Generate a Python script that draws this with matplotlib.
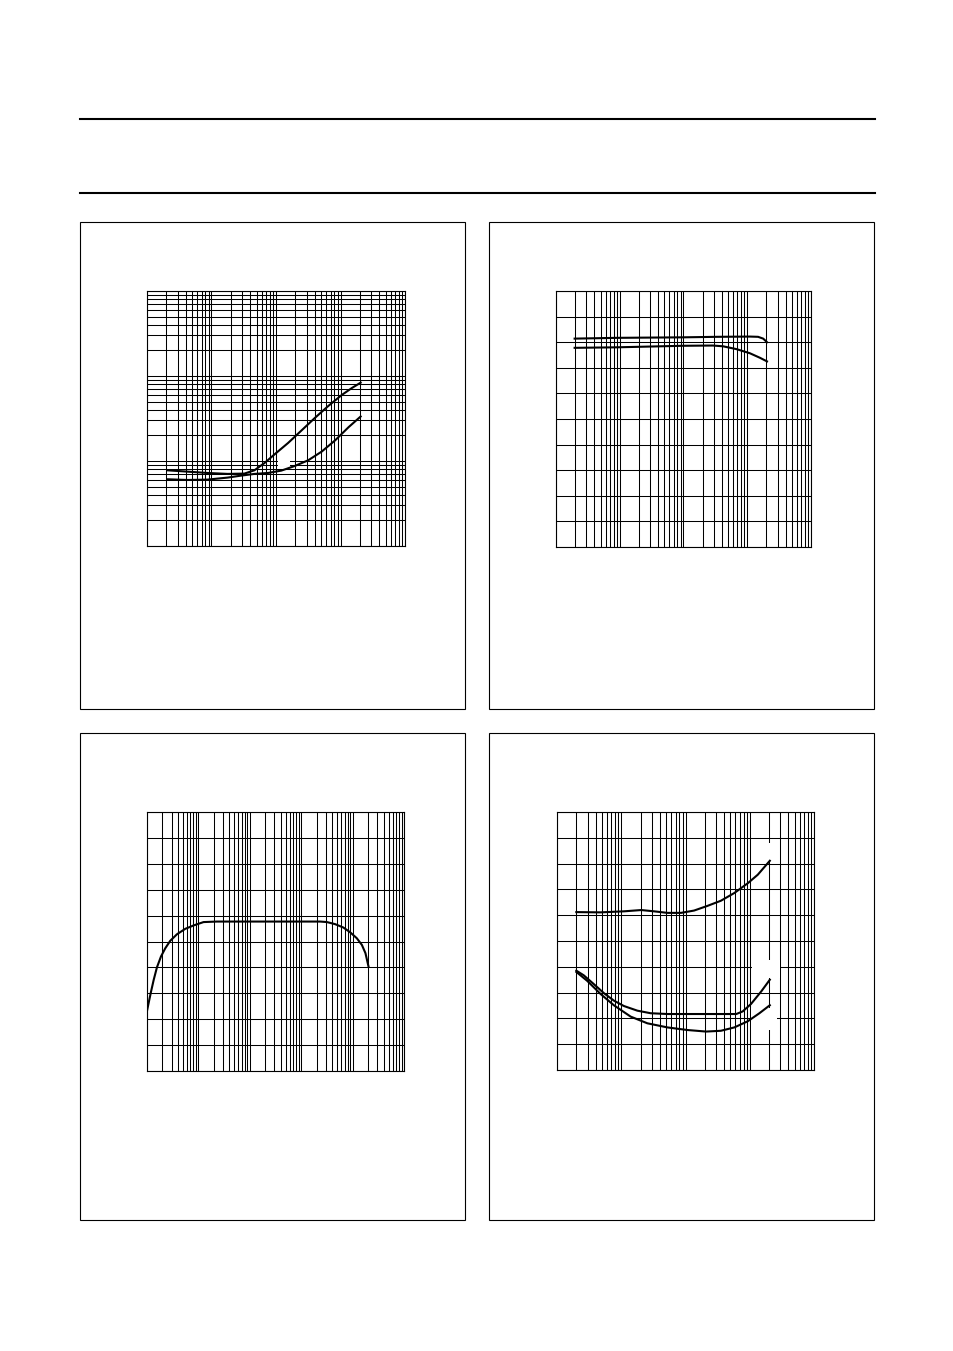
import matplotlib
matplotlib.use('Agg')
import matplotlib.pyplot as plt
from matplotlib.ticker import LogLocator, MultipleLocator
from matplotlib.patches import Rectangle
from matplotlib.lines import Line2D

W, H = 954, 1351

# chart 1 (log / log)
c1_x_a = [2.05, 4.22, 8.66, 17.8, 32.4, 46.4, 66.5, 95.3, 154, 249, 402, 649, 1050, 1503, 2054]
c1_y_a = [7.78, 7.50, 7.23, 7.05, 7.11, 7.78, 9.48, 12.0, 16.3, 22.9, 32.2, 44.5, 59.9, 72.3, 83.5]
c1_x_b = [2.05, 4.22, 8.66, 17.8, 28.7, 46.4, 75, 121, 195, 316, 511, 826, 1334, 2054]
c1_y_b = [6.10, 5.98, 6.04, 6.38, 6.73, 7.05, 7.23, 7.71, 8.73, 10.2, 12.9, 17.5, 25.0, 33.4]

# chart 2 (log / lin)
c2_x_a = [1.96, 8.9, 29.5, 98, 331, 1096, 1479, 1778, 2042]
c2_y_a = [8.14, 8.17, 8.18, 8.19, 8.21, 8.22, 8.21, 8.14, 8.0]
c2_x_b = [1.96, 8.9, 29.5, 98, 288, 417, 676, 1096, 1585, 2042]
c2_y_b = [7.78, 7.80, 7.83, 7.86, 7.87, 7.84, 7.73, 7.57, 7.39, 7.25]

# chart 3 (log / lin, 5 decades)
c3_x = [1, 1.09, 1.2, 1.35, 1.56, 1.87, 2.27, 2.84, 3.83, 5.56, 8.07, 12.6, 22.9,
        2344, 3162, 4571, 6607, 8913, 12023, 15136, 17783, 20417]
c3_y = [2.32, 2.68, 3.07, 3.52, 4.0, 4.42, 4.74, 5.03, 5.28, 5.49, 5.62, 5.75, 5.77,
        5.77, 5.75, 5.67, 5.54, 5.36, 5.13, 4.87, 4.55, 4.03]

# chart 4 (log / lin)
c4_x_a = [2.0, 4.75, 11.0, 20.5, 32.4, 52.5, 85.1, 136, 219, 355, 575, 933, 1334, 2054]
c4_y_a = [6.12, 6.11, 6.15, 6.20, 6.15, 6.09, 6.09, 6.18, 6.36, 6.56, 6.86, 7.24, 7.57, 8.11]
c4_x_b = [2.0, 2.61, 3.74, 5.36, 7.67, 11.0, 17.8, 28.7, 52.5, 617, 776, 1047, 1514, 2054]
c4_y_b = [3.85, 3.67, 3.33, 2.98, 2.69, 2.48, 2.30, 2.20, 2.17, 2.17, 2.27, 2.56, 3.05, 3.50]
c4_x_c = [2.0, 2.94, 4.75, 7.67, 14.0, 25.5, 52.5, 107, 209, 355, 575, 933, 1413, 2054]
c4_y_c = [3.80, 3.46, 2.95, 2.51, 2.07, 1.81, 1.65, 1.55, 1.49, 1.52, 1.65, 1.89, 2.20, 2.51]

fig = plt.figure(figsize=(W / 100, H / 100), dpi=100)


def fx(px):
    return px / W


def fy(py):
    return 1 - py / H


def make_ax(l, t, r, b, xmax, ylog):
    ax = fig.add_axes([fx(l), fy(b), fx(r - l), (b - t) / H])
    ax.set_xscale('log')
    ax.set_xlim(1, xmax)
    ax.xaxis.set_major_locator(LogLocator(base=10, numticks=20))
    ax.xaxis.set_minor_locator(LogLocator(base=10, subs=range(2, 10), numticks=100))
    if ylog:
        ax.set_yscale('log')
        ax.set_ylim(1, 1000)
        ax.yaxis.set_major_locator(LogLocator(base=10, numticks=20))
        ax.yaxis.set_minor_locator(LogLocator(base=10, subs=range(2, 10), numticks=100))
    else:
        ax.set_ylim(0, 10)
        ax.yaxis.set_major_locator(MultipleLocator(1))
    ax.set_axisbelow(True)
    ax.grid(which='both', color='black', linewidth=0.75)
    ax.tick_params(which='both', length=0, labelbottom=False, labelleft=False)
    for s in ax.spines.values():
        s.set_linewidth(0.8)
    return ax


def mask(ax, l, t, r, b):
    ax.add_patch(Rectangle((fx(l), fy(b)), fx(r - l), (b - t) / H,
                           transform=fig.transFigure, facecolor='white',
                           edgecolor='none', zorder=1.5))


# page rules and panel boxes
for y in [119, 193]:
    fig.add_artist(Line2D([fx(80), fx(875)], [fy(y), fy(y)], color='black', linewidth=1.5))
for (l, t, r, b) in [(80.5, 221.5, 465.5, 708.5), (489.5, 221.5, 874.5, 708.5),
                     (80.5, 732.5, 465.5, 1219.5), (489.5, 732.5, 874.5, 1219.5)]:
    fig.add_artist(Rectangle((fx(l), fy(b)), fx(r - l), (b - t) / H, transform=fig.transFigure,
                             fill=False, edgecolor='black', linewidth=0.8))

ax1 = make_ax(147, 291, 405, 546, 1e4, True)
ax1.plot(c1_x_a, c1_y_a, color='black', linewidth=1.5)
ax1.plot(c1_x_b, c1_y_b, color='black', linewidth=1.5)
mask(ax1, 278, 459, 290, 466)

ax2 = make_ax(556, 291, 811, 547, 1e4, False)
ax2.plot(c2_x_a, c2_y_a, color='black', linewidth=1.5)
ax2.plot(c2_x_b, c2_y_b, color='black', linewidth=1.5)

ax3 = make_ax(147, 812, 404, 1071, 1e5, False)
ax3.plot(c3_x, c3_y, color='black', linewidth=1.5)

ax4 = make_ax(557, 812, 814, 1070, 1e4, False)
ax4.plot(c4_x_a, c4_y_a, color='black', linewidth=1.5)
ax4.plot(c4_x_b, c4_y_b, color='black', linewidth=1.5)
ax4.plot(c4_x_c, c4_y_c, color='black', linewidth=1.5)
mask(ax4, 764, 843, 772, 861)
mask(ax4, 752, 960, 780, 978)
mask(ax4, 751, 1008, 777, 1030)

plt.savefig('out.png', dpi=100)
